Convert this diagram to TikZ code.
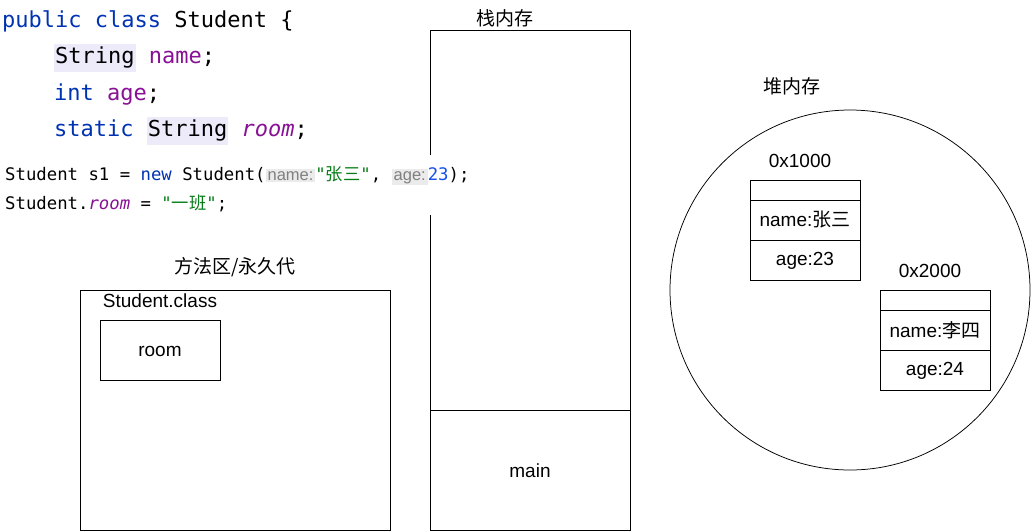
\documentclass[tikz,border=0pt]{standalone}
\usepackage{fontspec}
\usepackage{xcolor}
\setmainfont{Liberation Sans}
\setmonofont{DejaVu Sans Mono}
\newfontfamily\cjk{Noto Sans CJK SC}
\definecolor{kw}{HTML}{0033B3}
\definecolor{fld}{HTML}{871094}
\definecolor{str}{HTML}{067D17}
\definecolor{num}{HTML}{1750EB}
\definecolor{hl}{HTML}{EDEBFA}
\definecolor{hint}{HTML}{EBEBEB}
\newcommand{\hlbox}[1]{{\setlength{\fboxsep}{1pt}\colorbox{hl}{\strut #1}}}
\newcommand{\hintbox}[1]{{\setlength{\fboxsep}{2pt}\colorbox{hint}{\fontsize{16.5}{19}\rmfamily\color{gray}#1}}}
\begin{document}
\begin{tikzpicture}[x=1pt,y=-1pt,
  lbl/.style={font=\fontsize{19}{21}\selectfont},
  box/.style={draw,line width=0.75pt},
  code/.style={anchor=base west,inner sep=0,font=\fontsize{22}{26}\ttfamily},
  scode/.style={anchor=base west,inner sep=0,font=\fontsize{17.3}{20}\ttfamily}]
\useasboundingbox (0,0) rectangle (1031,531);
% stack
\node[lbl] (stl) at (505,18) {\cjk 栈内存};
\draw[box] (430,30) rectangle (630,530);
\draw[box] (430,410) -- (630,410);
\node[lbl] (main) at (530,471) {main};
% method area
\node[lbl] (mal) at (235,267) {\cjk 方法区/永久代};
\draw[box] (80,290) rectangle (390,530);
\node[lbl] (sc) at (160,301) {Student.class};
\draw[box] (100,320) rectangle (220,380);
\node[lbl] (room) at (160,351) {room};
% heap
\node[lbl] (hl) at (792,86) {\cjk 堆内存};
\draw[box] (850,290) circle (180);
\node[lbl] (a1) at (800,161) {0x1000};
\draw[box] (750,180) rectangle (860,280);
\draw[box] (750,200) -- (860,200) (750,240) -- (860,240);
\node[lbl] (n1) at (805,220) {name:{\cjk 张三}};
\node[lbl] (g1) at (805,261) {age:23};
\node[lbl] (a2) at (930,271) {0x2000};
\draw[box] (880,290) rectangle (990,390);
\draw[box] (880,310) -- (990,310) (880,350) -- (990,350);
\node[lbl] (n2) at (935,330) {name:{\cjk 李四}};
\node[lbl] (g2) at (935,371) {age:24};
% code
\fill[white] (0,155) rectangle (490,215);
\node[code] (c1) at (2,27) {\color{kw}public class \color{black}Student \{};
\node[code] (c2) at (54,63) {\hlbox{String} \color{fld}name\color{black};};
\node[code] (c3) at (54,100) {\color{kw}int \color{fld}age\color{black};};
\node[code] (c4) at (54,136) {\color{kw}static \hlbox{\color{black}String} \color{fld}\itshape room\upshape\color{black};};
\node[scode] (c5) at (5,180) {Student s1 = \color{kw}new \color{black}Student(\hintbox{name:}\color{str}"{\cjk 张三}"\color{black}, \hintbox{age:}\color{num}23\color{black});};
\node[scode] (c6) at (5,209) {Student.\color{fld}\itshape room\upshape\color{black}\ = \color{str}"{\cjk 一班}"\color{black};};
\end{tikzpicture}
\end{document}
